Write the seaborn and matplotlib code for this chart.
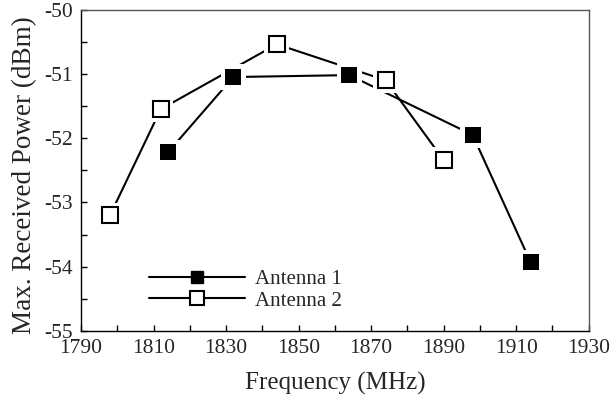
"""
Max. received power vs frequency for two antennas.
"""

import matplotlib
matplotlib.use("Agg")
import matplotlib.pyplot as plt
import seaborn as sns
from matplotlib.ticker import MultipleLocator


# antenna 1 (filled squares)
freq_a1 = [1814, 1832, 1864, 1898, 1914]
power_a1 = [-52.22, -51.05, -51.02, -51.95, -53.93]

# antenna 2 (open squares)
freq_a2 = [1798, 1812, 1844, 1874, 1890]
power_a2 = [-53.2, -51.55, -50.54, -51.1, -52.34]

labels = ["Antenna 1", "Antenna 2"]

x_ticks = [1790, 1810, 1830, 1850, 1870, 1890, 1910, 1930]
y_ticks = [-55, -54, -53, -52, -51, -50]


def main():
    sns.set_style("ticks")
    plt.rcParams["font.family"] = ["Liberation Serif", "DejaVu Serif"]
    plt.rcParams["axes.unicode_minus"] = False

    fig = plt.figure(figsize=(6.1, 4.0), dpi=100)
    ax = fig.add_axes([0.1328, 0.1725, 0.8322, 0.8037])

    sns.lineplot(
        x=freq_a1, y=power_a1, sort=False, color="black", lw=1.5,
        marker="s", markersize=11, markerfacecolor="black",
        markeredgecolor="black", markeredgewidth=1, label=labels[0],
        ax=ax,
    )
    sns.lineplot(
        x=freq_a2, y=power_a2, sort=False, color="black", lw=1.5,
        marker="s", markersize=12.2, markerfacecolor="white",
        markeredgecolor="black", markeredgewidth=1.5, label=labels[1],
        ax=ax,
    )
    for line in ax.lines:
        line.set_zorder(2)
    # white halos so the lines stop short of the markers
    for xs, ys in [(freq_a1, power_a1), (freq_a2, power_a2)]:
        sns.scatterplot(
            x=xs, y=ys, marker="s", s=330, color="white",
            edgecolor="none", linewidth=0, zorder=3, legend=False, ax=ax,
        )
    # redraw markers on top of the halos
    ax.plot(freq_a1, power_a1, ls="none", marker="s", ms=11.5,
            mfc="black", mec="black", mew=0, zorder=5)
    ax.plot(freq_a2, power_a2, ls="none", marker="s", ms=12.2,
            mfc="white", mec="black", mew=1.5, zorder=5)

    ax.set_xlim(x_ticks[0], x_ticks[-1])
    ax.set_ylim(y_ticks[0], y_ticks[-1])
    ax.set_xticks(x_ticks)
    ax.set_yticks(y_ticks)
    ax.xaxis.set_minor_locator(MultipleLocator(10))
    ax.yaxis.set_minor_locator(MultipleLocator(0.5))
    ax.tick_params(which="both", direction="in", length=4.5, width=1,
                   color="black", labelsize=15.5)
    ax.tick_params(axis="y", pad=6)
    ax.tick_params(axis="x", pad=6)

    for side in ["left", "bottom", "top", "right"]:
        ax.spines[side].set_visible(True)
        ax.spines[side].set_color("black")
        ax.spines[side].set_linewidth(1.0)
    ax.spines["top"].set_color("#555555")
    ax.spines["right"].set_color("#555555")

    ax.set_xlabel("Frequency (MHz)", fontsize=18, labelpad=10)
    ax.set_ylabel("Max. Received Power (dBm)", fontsize=19.5)
    ax.yaxis.set_label_coords(-0.087, 0.485)
    ax.grid(False)

    ax.legend(
        loc="upper left", bbox_to_anchor=(0.134, 0.192), frameon=False,
        fontsize=15, handlelength=4.6, handletextpad=0.5,
        borderpad=0, borderaxespad=0, labelspacing=0.1, markerscale=0.85,
    )

    fig.savefig("out.png", dpi=100)


if __name__ == "__main__":
    main()
